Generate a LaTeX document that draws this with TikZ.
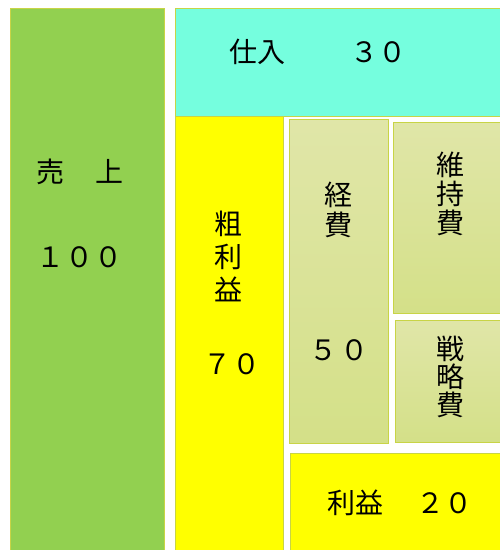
\documentclass[tikz,border=0pt]{standalone}
\usepackage{fontspec}
\setmainfont{Noto Sans CJK JP}
\usetikzlibrary{fit}
\definecolor{sgreen}{RGB}{146,208,80}
\definecolor{scyan}{RGB}{117,254,222}
\definecolor{syellow}{RGB}{255,255,0}
\definecolor{olivetop}{RGB}{224,230,168}
\definecolor{olivebot}{RGB}{212,224,136}
\definecolor{edgeline}{RGB}{200,212,70}
\begin{document}
\begin{tikzpicture}[x=1pt,y=-1pt,
  box/.style={draw=edgeline, line width=0.9pt, inner sep=0pt, outer sep=0pt},
  olive/.style={box, top color=olivetop, bottom color=olivebot},
  lbl/.style={font=\fontsize{28}{30}\selectfont, inner sep=0pt, align=center, text=black}]
\useasboundingbox[fill=white] (0,0) rectangle (500,550);
% boxes
\node[box, fill=sgreen, fit={(10,8) (164,562)}] (sales) {};
\node[box, fill=scyan, fit={(175,8) (512,116)}] (purchase) {};
\node[box, fill=syellow, fit={(175,116) (283,562)}] (gross) {};
\node[olive, fit={(289,119) (388,443)}] (expense) {};
\node[olive, fit={(393,122) (512,313)}] (maint) {};
\node[olive, fit={(395,320) (512,442)}] (strategy) {};
\node[box, fill=syellow, fit={(290,453) (512,562)}] (profit) {};
% labels
\node[lbl] (salesT) at (80,172) {売\hspace{32pt}上};
\node[lbl] (salesN) at (80,257) {１\hspace{1pt}０\hspace{1pt}０};
\node[lbl] (purchaseT) at (318,52) {仕入\hspace{65pt}３０};
\node[lbl, font=\fontsize{28}{33}\selectfont] (grossT) at (228,256) {粗\\利\\益};
\node[lbl] (grossN) at (232,364) {７\hspace{1pt}０};
\node[lbl, font=\fontsize{28}{30}\selectfont] (expenseT) at (338,210) {経\\費};
\node[lbl] (expenseN) at (339,350) {５\hspace{3pt}０};
\node[lbl, font=\fontsize{28}{29}\selectfont] (maintT) at (450,194) {維\\持\\費};
\node[lbl, font=\fontsize{28}{28}\selectfont] (strategyT) at (450,377) {戦\\略\\費};
\node[lbl] (profitT) at (400,503) {利益\hspace{34pt}２０};
\end{tikzpicture}
\end{document}
